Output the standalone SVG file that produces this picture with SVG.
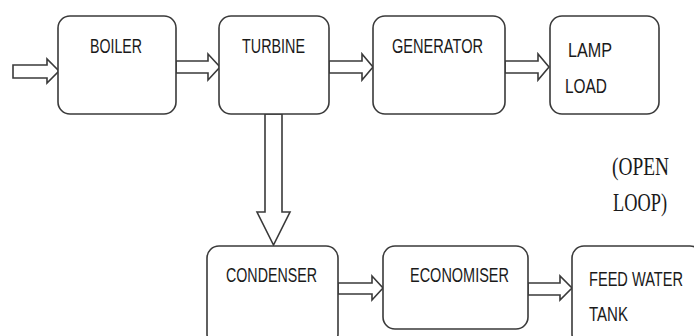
<svg xmlns="http://www.w3.org/2000/svg" width="694" height="336" viewBox="0 0 694 336">
<style>
.box{fill:#fff;stroke:#3a3a3a;stroke-width:1.6}
.arr{fill:#fff;stroke:#3a3a3a;stroke-width:1.6;stroke-linejoin:miter}
.t{font-family:"Liberation Sans",Arial,sans-serif;font-size:21px;fill:#1a1a1a}
.s{font-family:"Liberation Serif","Times New Roman",serif;font-size:25px;fill:#1a1a1a}
</style>
<rect width="694" height="336" fill="#fff"/>
<g id="connectors">
<polygon class="arr" points="13,65 47,65 47,59 59,71 47,83 47,78 13,78"/>
<polygon class="arr" points="176,61 208,61 208,54 220,67 208,80 208,73 176,73"/>
<polygon class="arr" points="329,61 362,61 362,54 373,67 362,80 362,73 329,73"/>
<polygon class="arr" points="505,61 538,61 538,54 549,67 538,80 538,73 505,73"/>
<polygon class="arr" points="265,114 265,212 257,212 273.5,245 290,212 282,212 282,114"/>
<polygon class="arr" points="338,283 372,283 372,276 383,288 372,300 372,294 338,294"/>
<polygon class="arr" points="528,283 560,283 560,276 572,288 560,300 560,295 528,295"/>
</g>
<g id="boiler"><rect class="box" x="58" y="16" width="118" height="98" rx="12"/><text class="t" x="90" y="53" textLength="52" lengthAdjust="spacingAndGlyphs">BOILER</text></g>
<g id="turbine"><rect class="box" x="219" y="16" width="110" height="98" rx="12"/><text class="t" x="242" y="53" textLength="63" lengthAdjust="spacingAndGlyphs">TURBINE</text></g>
<g id="generator"><rect class="box" x="373" y="16" width="132" height="98" rx="12"/><text class="t" x="392" y="53" textLength="91" lengthAdjust="spacingAndGlyphs">GENERATOR</text></g>
<g id="lampload"><rect class="box" x="550" y="16" width="109" height="98" rx="12"/><text class="t" x="568" y="57" textLength="44" lengthAdjust="spacingAndGlyphs">LAMP</text><text class="t" x="565" y="93" textLength="42" lengthAdjust="spacingAndGlyphs">LOAD</text></g>
<g id="condenser"><rect class="box" x="207" y="246" width="131" height="100" rx="12"/><text class="t" x="226" y="282" textLength="91" lengthAdjust="spacingAndGlyphs">CONDENSER</text></g>
<g id="economiser"><rect class="box" x="383" y="246" width="145" height="83" rx="12"/><text class="t" x="410" y="282" textLength="99" lengthAdjust="spacingAndGlyphs">ECONOMISER</text></g>
<g id="feedwater"><rect class="box" x="572" y="246" width="130" height="100" rx="12"/><text class="t" x="589" y="286" textLength="94" lengthAdjust="spacingAndGlyphs">FEED WATER</text><text class="t" x="589" y="321" textLength="39" lengthAdjust="spacingAndGlyphs">TANK</text></g>
<g id="openloop"><text class="s" x="612" y="175" textLength="57" lengthAdjust="spacingAndGlyphs">(OPEN</text><text class="s" x="613" y="211" textLength="54" lengthAdjust="spacingAndGlyphs">LOOP)</text></g>
</svg>
